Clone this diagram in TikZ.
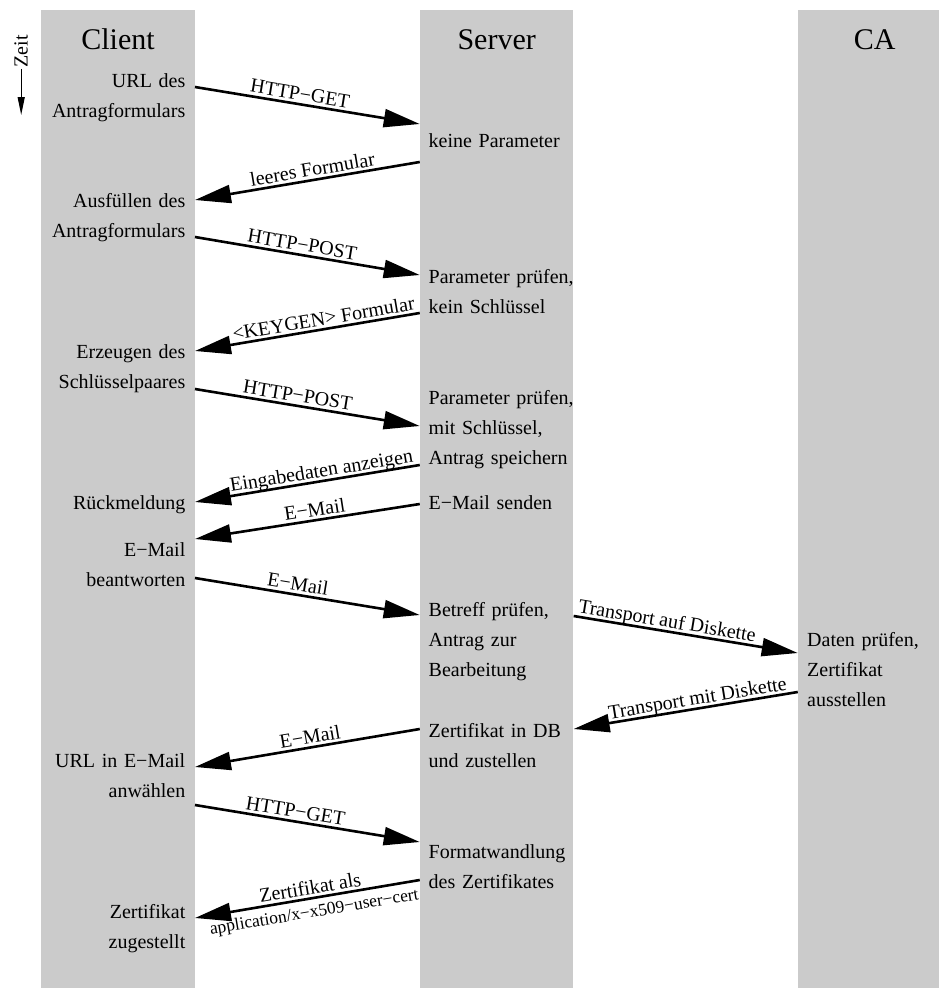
\documentclass[tikz,border=0pt]{standalone}
\usepackage{fontspec}
\setmainfont{Liberation Serif}
\usepackage{tikz}
\usetikzlibrary{arrows.meta}
\usetikzlibrary{positioning}
\definecolor{lanegray}{RGB}{203,203,203}
\tikzset{
    lane/.style = {rectangle, fill=lanegray, inner sep=0pt, minimum width=153.5pt, minimum height=978pt},
    lanetitle/.style = {anchor=base, inner sep=0pt, font=\fontsize{30}{36}\selectfont},
    ctext/.style = {anchor=base east, align=right, text width=160pt, inner sep=0pt, font=\fontsize{20}{30}\selectfont},
    stext/.style = {anchor=base west, align=left, text width=160pt, inner sep=0pt, font=\fontsize{20}{30}\selectfont},
    msg/.style = {-{Triangle[length=36pt,width=18pt]}, line width=2.6pt},
    msglabel/.style = {sloped, anchor=base, inner sep=0pt, yshift=4pt, font=\fontsize{20}{24}\selectfont},
    msgsmall/.style = {sloped, anchor=base, inner sep=0pt, yshift=-19pt, font=\fontsize{17.5}{20}\selectfont},
    zeitpfeil/.style = {-{Triangle[length=18pt,width=7pt]}, line width=1.3pt}
}

\begin{document}
\begin{tikzpicture}[x=1pt, y=-1pt]
  \useasboundingbox (0,0) rectangle (939,988);

  % lanes
  \node[lane] (client) at (118,499) {};
  \node[lane] (server) at (496.7,499) {};
  \node[lane] (ca) at (874.7,499) {};
  \node[lanetitle] (tclient) at (118,49) {Client};
  \node[lanetitle] (tserver) at (496.7,49) {Server};
  \node[lanetitle] (tca) at (874.7,49) {CA};

  % time axis
  \node[rotate=90, inner sep=1pt, font=\fontsize{20}{24}\selectfont] (zeit) at (21.2,51.5) {Zeit};
  \coordinate (zeitend) at (21.2,115);
  \draw[zeitpfeil] (zeit.west) -- (zeitend);

  % client side
  \node[ctext] (curl) at (185.5,87) {URL des\\Antragformulars};
  \node[ctext] (cfill) at (185.5,207) {Ausfüllen des\\Antragformulars};
  \node[ctext] (ckeygen) at (185.5,358) {Erzeugen des\\Schlüsselpaares};
  \node[ctext] (cack) at (185.5,509) {Rückmeldung};
  \node[ctext] (cmail) at (185.5,556) {E−Mail\\beantworten};
  \node[ctext] (curlmail) at (185.5,767) {URL in E−Mail\\anwählen};
  \node[ctext] (ccert) at (185.5,918) {Zertifikat\\zugestellt};

  % server side
  \node[stext] (snoparam) at (428.5,147) {keine Parameter};
  \node[stext] (scheck) at (428.5,283) {Parameter prüfen,\\kein Schlüssel};
  \node[stext] (scheckkey) at (428.5,404) {Parameter prüfen,\\mit Schlüssel,\\Antrag speichern};
  \node[stext] (ssend) at (428.5,509) {E−Mail senden};
  \node[stext] (ssubject) at (428.5,616) {Betreff prüfen,\\Antrag zur\\Bearbeitung};
  \node[stext] (sstore) at (428.5,737) {Zertifikat in DB\\und zustellen};
  \node[stext] (sconvert) at (428.5,858) {Formatwandlung\\des Zertifikates};

  % ca side
  \node[stext] (cacheck) at (807,646) {Daten prüfen,\\Zertifikat\\ausstellen};

  % messages
  \draw[msg] (client.east |- 0,87) -- node[msglabel, pos=0.46] {HTTP−GET} (server.west |- 0,124);
  \draw[msg] (server.west |- 0,162) -- node[msglabel, pos=0.47] {leeres Formular} (client.east |- 0,200);
  \draw[msg] (client.east |- 0,237) -- node[msglabel, pos=0.47] {HTTP−POST} (server.west |- 0,275);
  \draw[msg] (server.west |- 0,313) -- node[msglabel, pos=0.42] {<KEYGEN> Formular} (client.east |- 0,351);
  \draw[msg] (client.east |- 0,389) -- node[msglabel, pos=0.45] {HTTP−POST} (server.west |- 0,426);
  \draw[msg] (server.west |- 0,465) -- node[msglabel, pos=0.43] {Eingabedaten anzeigen} (client.east |- 0,502);
  \draw[msg] (server.west |- 0,504) -- node[msglabel, pos=0.46] {E−Mail} (client.east |- 0,539);
  \draw[msg] (client.east |- 0,578) -- node[msglabel, pos=0.45] {E−Mail} (server.west |- 0,615);
  \draw[msg] (server.east |- 0,616) -- node[msglabel, pos=0.41] {Transport auf Diskette} (ca.west |- 0,653);
  \draw[msg] (ca.west |- 0,692) -- node[msglabel, pos=0.44] {Transport mit Diskette} (server.east |- 0,729);
  \draw[msg] (server.west |- 0,729) -- node[msglabel, pos=0.48] {E−Mail} (client.east |- 0,767);
  \draw[msg] (client.east |- 0,805) -- node[msglabel, pos=0.44] {HTTP−GET} (server.west |- 0,842);
  \draw[msg] (server.west |- 0,880) -- node[msglabel, pos=0.48] {Zertifikat als}
    node[msgsmall, pos=0.48] {application/x−x509−user−cert} (client.east |- 0,918);

\end{tikzpicture}
\end{document}
